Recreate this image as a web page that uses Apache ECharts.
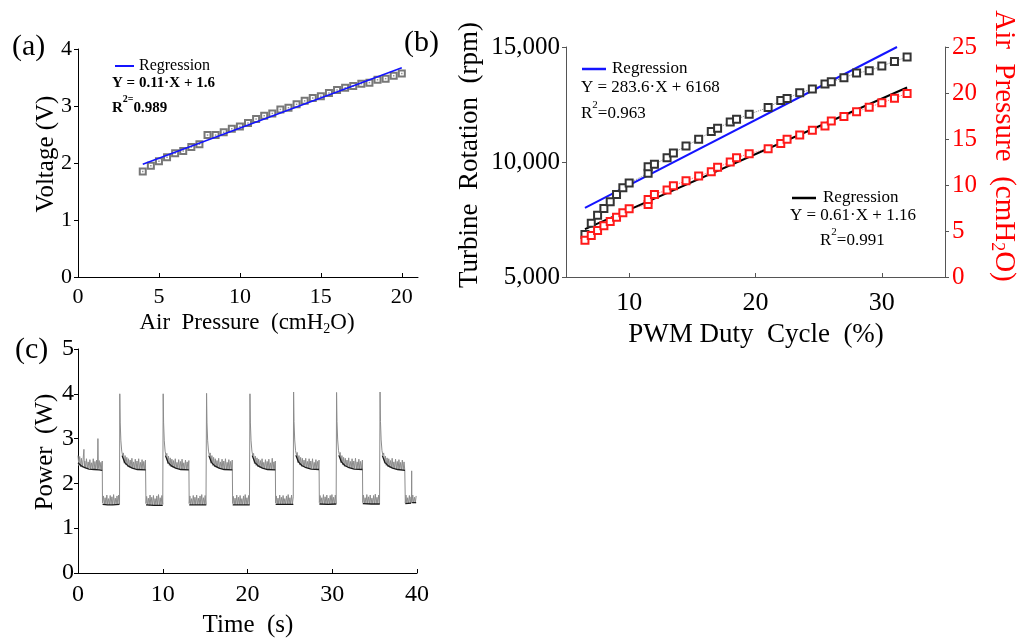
<!DOCTYPE html>
<html>
<head>
<meta charset="utf-8">
<title>Turbine characteristics</title>
<script src="https://cdn.jsdelivr.net/npm/echarts@6.0.0/dist/echarts.min.js"></script>
<style>
html, body { margin: 0; padding: 0; background: #fff; }
#main { width: 1027px; height: 639px; }
</style>
</head>
<body>
<div id="main"></div>
<script>
// (a) voltage vs air pressure
var pressureA = [4, 4.5, 5, 5.5, 6, 6.5, 7, 7.5, 8, 8.5, 9, 9.5, 10, 10.5, 11, 11.5, 12, 12.5, 13, 13.5, 14, 14.5, 15, 15.5, 16, 16.5, 17, 17.5, 18, 18.5, 19, 19.5, 20];
var voltageA = [1.85, 1.95, 2.03, 2.10, 2.17, 2.21, 2.28, 2.33, 2.49, 2.49, 2.54, 2.60, 2.64, 2.70, 2.77, 2.83, 2.87, 2.94, 2.97, 3.03, 3.09, 3.14, 3.17, 3.23, 3.28, 3.32, 3.35, 3.39, 3.41, 3.46, 3.48, 3.53, 3.57];
var regVoltage = [[4, 1.98], [20, 3.67]];
var ticksAx = [0, 5, 10, 15, 20];

// (b) turbine rotation and air pressure vs PWM duty cycle
var dutyB = [6.5, 7, 7.5, 8, 8.5, 9, 9.5, 10, 11.5, 11.5, 12, 13, 13.5, 14.5, 15.5, 16.5, 17, 18, 18.5, 19.5, 21, 22, 22.5, 23.5, 24.5, 25.5, 26, 27, 28, 29, 30, 31, 32];
var rpmB = [6846, 7340, 7689, 7980, 8270, 8590, 8880, 9084, 9506, 9797, 9898, 10189, 10392, 10698, 10988, 11323, 11468, 11744, 11860, 12078, 12369, 12674, 12762, 13009, 13169, 13387, 13488, 13663, 13866, 13968, 14172, 14375, 14564];
var airB = [4.0, 4.5, 5.05, 5.56, 6.03, 6.5, 6.98, 7.41, 7.88, 8.43, 8.98, 9.45, 9.92, 10.47, 10.97, 11.45, 11.92, 12.5, 12.97, 13.41, 13.95, 14.5, 14.97, 15.44, 15.95, 16.42, 16.97, 17.44, 17.95, 18.46, 18.93, 19.44, 19.95];
var regRpm = [[6.5, 8010], [31.2, 15000]];
var regAir = [[6.5, 5.2], [32, 20.6]];
var ticksBx = [10, 20, 30];

// (c) power trace, grey = raw samples, black = lower envelope
var powerGrey = [
  [0,2.62],[0.1,2.4],[0.2,2.6],[0.3,2.37],[0.4,2.56],[0.5,2.36],[0.6,2.53],[0.7,2.76],[0.75,2.35],[0.8,2.5],[0.9,2.34],[1.0,2.55],[1.1,2.33],[1.2,2.48],[1.3,2.34],[1.4,2.53],[1.5,2.32],[1.6,2.46],[1.7,2.33],[1.8,2.55],[1.9,2.32],[2.0,2.49],[2.1,2.31],[2.2,2.52],[2.3,2.32],[2.35,3.0],[2.4,2.33],[2.5,2.51],[2.6,2.31],[2.7,2.47],[2.8,2.31],[2.86,2.5],
  [2.89,1.56],[3.0,1.72],[3.1,1.53],[3.2,1.68],[3.3,1.52],[3.4,1.74],[3.5,1.53],[3.6,1.66],[3.7,1.52],[3.8,1.73],[3.9,1.53],[4.0,1.7],[4.1,1.52],[4.2,1.75],[4.3,1.53],[4.4,1.67],[4.5,1.52],[4.6,1.72],[4.7,1.53],[4.8,1.74],[4.9,1.54],
  [4.93,4.0],[4.98,3.35],[5.06,2.95],[5.16,2.72],[5.26,2.62],[5.36,2.68],[5.46,2.45],[5.56,2.62],[5.66,2.41],[5.76,2.58],[5.86,2.38],[5.96,2.55],[6.06,2.36],[6.16,2.52],[6.26,2.35],[6.36,2.56],[6.46,2.34],[6.56,2.48],[6.66,2.33],[6.76,2.54],[6.86,2.33],[6.96,2.5],[7.06,2.32],[7.16,2.55],[7.26,2.32],[7.36,2.47],[7.46,2.31],[7.56,2.53],[7.66,2.31],[7.76,2.49],[7.86,2.31],[7.96,2.52],
  [8.02,1.55],[8.1,1.71],[8.2,1.52],[8.3,1.67],[8.4,1.51],[8.5,1.74],[8.6,1.52],[8.7,1.69],[8.8,1.51],[8.9,1.73],[9.0,1.52],[9.1,1.66],[9.2,1.51],[9.3,1.72],[9.4,1.52],[9.5,1.75],[9.6,1.51],[9.7,1.68],[9.8,1.52],[9.9,1.73],[10.0,1.53],
  [10.05,4.0],[10.1,3.35],[10.18,2.95],[10.28,2.72],[10.38,2.62],[10.48,2.67],[10.58,2.44],[10.68,2.61],[10.78,2.4],[10.88,2.57],[10.98,2.37],[11.08,2.54],[11.18,2.36],[11.28,2.51],[11.38,2.35],[11.48,2.55],[11.58,2.34],[11.68,2.47],[11.78,2.33],[11.88,2.53],[11.98,2.32],[12.08,2.49],[12.18,2.32],[12.28,2.54],[12.38,2.31],[12.48,2.46],[12.58,2.31],[12.68,2.52],[12.78,2.31],[12.88,2.48],[12.98,2.3],[13.08,2.51],
  [13.12,1.55],[13.2,1.72],[13.3,1.52],[13.4,1.66],[13.5,1.52],[13.6,1.73],[13.7,1.53],[13.8,1.69],[13.9,1.52],[14.0,1.74],[14.1,1.53],[14.2,1.67],[14.3,1.52],[14.4,1.72],[14.5,1.53],[14.6,1.75],[14.7,1.52],[14.8,1.68],[14.9,1.53],[15.0,1.73],[15.1,1.53],
  [15.17,4.01],[15.22,3.35],[15.3,2.95],[15.4,2.72],[15.5,2.63],[15.6,2.68],[15.7,2.45],[15.8,2.62],[15.9,2.4],[16.0,2.58],[16.1,2.37],[16.2,2.55],[16.3,2.36],[16.4,2.51],[16.5,2.35],[16.6,2.56],[16.7,2.34],[16.8,2.48],[16.9,2.33],[17.0,2.54],[17.1,2.32],[17.2,2.5],[17.3,2.32],[17.4,2.55],[17.5,2.31],[17.6,2.47],[17.7,2.31],[17.8,2.53],[17.9,2.31],[18.0,2.49],[18.1,2.3],[18.2,2.52],
  [18.25,1.55],[18.33,1.71],[18.43,1.52],[18.53,1.67],[18.63,1.52],[18.73,1.74],[18.83,1.52],[18.93,1.69],[19.03,1.52],[19.13,1.73],[19.23,1.52],[19.33,1.66],[19.43,1.53],[19.53,1.72],[19.63,1.52],[19.73,1.75],[19.83,1.52],[19.93,1.68],[20.03,1.53],[20.13,1.73],[20.23,1.53],
  [20.29,4.0],[20.34,3.35],[20.42,2.95],[20.52,2.72],[20.62,2.62],[20.72,2.67],[20.82,2.44],[20.92,2.61],[21.02,2.4],[21.12,2.57],[21.22,2.37],[21.32,2.54],[21.42,2.36],[21.52,2.51],[21.62,2.35],[21.72,2.55],[21.82,2.34],[21.92,2.47],[22.02,2.33],[22.12,2.53],[22.22,2.32],[22.32,2.49],[22.42,2.32],[22.52,2.54],[22.62,2.31],[22.72,2.46],[22.82,2.31],[22.92,2.56],[23.02,2.31],[23.12,2.48],[23.22,2.3],[23.28,2.5],
  [23.32,1.56],[23.4,1.72],[23.5,1.53],[23.6,1.67],[23.7,1.53],[23.8,1.74],[23.9,1.54],[24.0,1.69],[24.1,1.53],[24.2,1.73],[24.3,1.54],[24.4,1.66],[24.5,1.53],[24.6,1.72],[24.7,1.54],[24.8,1.75],[24.9,1.53],[25.0,1.68],[25.1,1.54],[25.2,1.74],[25.3,1.54],[25.4,1.7],
  [25.44,4.04],[25.49,3.38],[25.57,2.97],[25.67,2.73],[25.77,2.64],[25.87,2.69],[25.97,2.46],[26.07,2.62],[26.17,2.41],[26.27,2.58],[26.37,2.38],[26.47,2.56],[26.57,2.37],[26.67,2.52],[26.77,2.36],[26.87,2.56],[26.97,2.35],[27.07,2.49],[27.17,2.34],[27.27,2.55],[27.37,2.33],[27.47,2.5],[27.57,2.33],[27.67,2.55],[27.77,2.32],[27.87,2.47],[27.97,2.32],[28.07,2.53],[28.17,2.32],[28.27,2.49],[28.37,2.31],[28.44,2.52],
  [28.48,1.57],[28.56,1.73],[28.66,1.54],[28.76,1.68],[28.86,1.54],[28.96,1.75],[29.06,1.54],[29.16,1.7],[29.26,1.53],[29.36,1.74],[29.46,1.54],[29.56,1.67],[29.66,1.54],[29.76,1.73],[29.86,1.54],[29.96,1.75],[30.06,1.54],[30.16,1.69],[30.26,1.54],[30.36,1.74],[30.46,1.55],
  [30.51,4.03],[30.56,3.38],[30.64,2.97],[30.74,2.73],[30.84,2.64],[30.94,2.69],[31.04,2.46],[31.14,2.62],[31.24,2.41],[31.34,2.58],[31.44,2.38],[31.54,2.56],[31.64,2.37],[31.74,2.52],[31.84,2.36],[31.94,2.57],[32.04,2.35],[32.14,2.49],[32.24,2.34],[32.34,2.55],[32.44,2.33],[32.54,2.5],[32.64,2.33],[32.74,2.56],[32.84,2.32],[32.94,2.48],[33.04,2.32],[33.14,2.54],[33.24,2.32],[33.34,2.49],[33.44,2.31],[33.56,2.52],
  [33.6,1.57],[33.68,1.74],[33.78,1.55],[33.88,1.68],[33.98,1.55],[34.08,1.75],[34.18,1.55],[34.28,1.7],[34.38,1.54],[34.48,1.74],[34.58,1.55],[34.68,1.67],[34.78,1.55],[34.88,1.73],[34.98,1.54],[35.08,1.76],[35.18,1.55],[35.28,1.69],[35.38,1.55],[35.48,1.74],[35.58,1.55],
  [35.64,4.04],[35.69,3.38],[35.77,2.97],[35.87,2.73],[35.97,2.63],[36.07,2.68],[36.17,2.45],[36.27,2.61],[36.37,2.4],[36.47,2.57],[36.57,2.37],[36.67,2.55],[36.77,2.36],[36.87,2.51],[36.97,2.35],[37.07,2.56],[37.17,2.34],[37.27,2.48],[37.37,2.33],[37.47,2.54],[37.57,2.32],[37.67,2.49],[37.77,2.31],[37.87,2.53],[37.97,2.31],[38.07,2.47],[38.17,2.3],[38.27,2.52],[38.37,2.3],[38.47,2.48],[38.56,2.29],
  [38.62,1.56],[38.7,1.74],[38.8,1.55],[38.9,1.68],[39.0,1.55],[39.1,1.73],[39.2,1.55],[39.3,1.7],[39.34,1.56],[39.37,2.28],[39.4,1.57],[39.5,1.74],[39.6,1.56],[39.7,1.69],[39.8,1.56],[39.9,1.72]
];
var powerBlack = [
  [0,2.46],[0.4,2.39],[0.8,2.35],[1.3,2.32],[1.9,2.31],[2.5,2.3],[2.86,2.29],[2.87,'-'],
  [2.9,1.53],[3.5,1.52],[4.1,1.52],[4.9,1.53],[4.91,'-'],
  [5.2,2.62],[5.5,2.47],[5.9,2.39],[6.4,2.34],[7.0,2.31],[7.98,2.3],[7.99,'-'],
  [8.02,1.52],[9.0,1.51],[10.0,1.51],[10.01,'-'],
  [10.32,2.62],[10.62,2.47],[11.02,2.39],[11.52,2.34],[12.12,2.31],[13.08,2.3],[13.09,'-'],
  [13.12,1.52],[14.1,1.52],[15.14,1.52],[15.15,'-'],
  [15.44,2.62],[15.74,2.47],[16.14,2.39],[16.64,2.34],[17.24,2.31],[18.21,2.3],[18.22,'-'],
  [18.25,1.52],[19.2,1.52],[20.26,1.52],[20.27,'-'],
  [20.56,2.62],[20.86,2.47],[21.26,2.39],[21.76,2.34],[22.36,2.31],[23.28,2.3],[23.29,'-'],
  [23.32,1.53],[24.4,1.53],[25.41,1.53],[25.42,'-'],
  [25.71,2.63],[26.01,2.48],[26.41,2.4],[26.91,2.35],[27.51,2.32],[28.44,2.31],[28.45,'-'],
  [28.48,1.54],[29.5,1.53],[30.48,1.54],[30.49,'-'],
  [30.78,2.63],[31.08,2.48],[31.48,2.4],[31.98,2.35],[32.58,2.32],[33.56,2.31],[33.57,'-'],
  [33.6,1.55],[34.6,1.54],[35.61,1.54],[35.62,'-'],
  [35.91,2.62],[36.21,2.47],[36.61,2.39],[37.11,2.34],[37.71,2.31],[38.58,2.29],[38.6,'-'],
  [38.62,1.55],[39.3,1.56],[39.35,'-'],
  [39.42,1.57],[39.9,1.57]
];

var SERIF = "'Liberation Serif', 'Times New Roman', serif";

function zip(xs, ys) {
	var out = [];
	for (var i = 0; i < xs.length; i++) {
		out.push([xs[i], ys[i]]);
	}
	return out;
}

// plain axis used by all panels
function axis(grid, min, max, fontSize, color, lineColor) {
	return {
		type : 'value',
		gridIndex : grid,
		min : min,
		max : max,
		axisLine : { show : true, onZero : false, lineStyle : { color : lineColor, width : 1 } },
		axisTick : { show : true, length : 4, lineStyle : { color : lineColor } },
		axisLabel : { fontFamily : SERIF, fontSize : fontSize, color : color },
		splitLine : { show : false }
	};
}

function label(x, y, text, size, opt) {
	opt = opt || {};
	return {
		type : 'text',
		x : x,
		y : y,
		rotation : opt.rotation || 0,
		style : {
			text : text,
			fontFamily : SERIF,
			fontSize : size,
			fontWeight : opt.bold ? 'bold' : 'normal',
			fill : opt.color || '#000',
			align : opt.align || 'left',
			verticalAlign : 'middle',
			rich : opt.rich
		}
	};
}

function richSub(size, color) {
	return {
		n : { fontFamily : SERIF, fontSize : size, fill : color, lineHeight : size + 4, verticalAlign : 'middle' },
		s : { fontFamily : SERIF, fontSize : Math.round(size * 0.62), fill : color, lineHeight : Math.round(size * 0.62), verticalAlign : 'bottom' }
	};
}
function richSup(size, bold) {
	var w = bold ? 'bold' : 'normal';
	return {
		n : { fontFamily : SERIF, fontSize : size, fontWeight : w, fill : '#000', lineHeight : size + 6, verticalAlign : 'bottom' },
		p : { fontFamily : SERIF, fontSize : Math.round(size * 0.65), fontWeight : w, fill : '#000', lineHeight : size, verticalAlign : 'top' }
	};
}

var chart = echarts.init(document.getElementById('main'));

var xA = axis(0, 0, 21, 22, '#000', '#000');
xA.axisTick.inside = true;
xA.axisTick.customValues = ticksAx;
xA.axisLabel.customValues = ticksAx;
xA.axisLabel.margin = 9;

var xB = axis(1, 5, 35, 26, '#000', '#555');
xB.axisTick.inside = true;
xB.axisTick.customValues = ticksBx;
xB.axisLabel.customValues = ticksBx;
xB.axisLabel.margin = 13;

var xC = axis(2, 0, 40, 24, '#000', '#000');
xC.interval = 10;
xC.axisTick.inside = true;
xC.axisLabel.margin = 10;

var yA = axis(0, 0, 4, 22, '#000', '#000');
yA.interval = 1;
yA.axisLabel.margin = 6;

var yB = axis(1, 5000, 15000, 25, '#000', '#555');
yB.interval = 5000;
yB.axisLabel.margin = 6;
yB.axisLabel.formatter = function(v) { return echarts.format.addCommas(v); };

var yB2 = axis(1, 0, 25, 25, '#ff0000', '#555');
yB2.position = 'right';
yB2.interval = 5;
yB2.axisLabel.margin = 7;

var yC = axis(2, 0, 5, 24, '#000', '#000');
yC.interval = 1;
yC.axisLabel.margin = 4;

var option = {
	animation : false,
	backgroundColor : '#fff',
	grid : [
		{ left : 78, top : 49, width : 340, height : 228 },
		{ left : 566, top : 47, width : 379, height : 230 },
		{ left : 78, top : 349, width : 339, height : 224 }
	],
	xAxis : [ xA, xB, xC ],
	yAxis : [ yA, yB, yB2, yC ],
	series : [
		{
			name : 'voltage',
			type : 'scatter',
			xAxisIndex : 0, yAxisIndex : 0,
			symbol : 'emptyRect', symbolSize : 6,
			itemStyle : { color : '#555', borderWidth : 1 },
			data : zip(pressureA, voltageA)
		},
		{
			type : 'scatter',
			xAxisIndex : 0, yAxisIndex : 0,
			symbol : 'rect', symbolSize : 1.5,
			itemStyle : { color : '#777' },
			data : zip(pressureA, voltageA)
		},
		{
			name : 'regression a',
			type : 'line',
			xAxisIndex : 0, yAxisIndex : 0,
			symbol : 'none',
			lineStyle : { color : '#1414ff', width : 1.6 },
			data : regVoltage
		},
		{
			name : 'rpm',
			type : 'line',
			xAxisIndex : 1, yAxisIndex : 1,
			symbol : 'emptyRect', symbolSize : 7,
			lineStyle : { color : '#888', width : 1, type : 'dotted' },
			itemStyle : { color : '#333', borderWidth : 1 },
			data : zip(dutyB, rpmB)
		},
		{
			name : 'air',
			type : 'line',
			xAxisIndex : 1, yAxisIndex : 2,
			symbol : 'emptyRect', symbolSize : 7,
			lineStyle : { color : '#ff6060', width : 1, type : 'dotted' },
			itemStyle : { color : '#ff1a1a', borderWidth : 1 },
			data : zip(dutyB, airB)
		},
		{
			type : 'scatter',
			xAxisIndex : 1, yAxisIndex : 1,
			symbol : 'rect', symbolSize : 1.5,
			itemStyle : { color : '#666' },
			data : zip(dutyB, rpmB)
		},
		{
			type : 'scatter',
			xAxisIndex : 1, yAxisIndex : 2,
			symbol : 'rect', symbolSize : 1.5,
			itemStyle : { color : '#ff4040' },
			data : zip(dutyB, airB)
		},
		{
			name : 'regression rpm',
			type : 'line',
			xAxisIndex : 1, yAxisIndex : 1,
			symbol : 'none',
			lineStyle : { color : '#1414ff', width : 2 },
			data : regRpm
		},
		{
			name : 'regression air',
			type : 'line',
			xAxisIndex : 1, yAxisIndex : 2,
			symbol : 'none',
			lineStyle : { color : '#000', width : 2 },
			data : regAir
		},
		{
			name : 'power raw',
			type : 'line',
			xAxisIndex : 2, yAxisIndex : 3,
			symbol : 'none',
			lineStyle : { color : '#8c8c8c', width : 1 },
			data : powerGrey
		},
		{
			name : 'power',
			type : 'line',
			xAxisIndex : 2, yAxisIndex : 3,
			symbol : 'none',
			connectNulls : false,
			lineStyle : { color : '#1a1a1a', width : 1.3 },
			data : powerBlack
		}
	],
	graphic : [
		// panel (a)
		label(12, 47, '(a)', 30),
		label(46, 154, 'Voltage (V)', 25, { rotation : Math.PI / 2, align : 'center' }),
		label(247, 323, '{n|Air  Pressure  (cmH}{s|2}{n|O)}', 23, { align : 'center', rich : richSub(23, '#000') }),
		{ type : 'line', shape : { x1 : 115, y1 : 66, x2 : 134, y2 : 66 }, style : { stroke : '#1414ff', lineWidth : 2 } },
		label(139, 66, 'Regression', 16),
		label(112, 83, 'Y = 0.11·X + 1.6', 15, { bold : true }),
		label(112, 105, '{n|R}{p|2=}{n|0.989}', 15, { rich : richSup(15, true) }),
		// panel (b)
		label(404, 43, '(b)', 30),
		label(470, 155, 'Turbine  Rotation  (rpm)', 27, { rotation : Math.PI / 2, align : 'center' }),
		label(1004, 146, '{n|Air  Pressure  (cmH}{s|2}{n|O)}', 29, { rotation : -Math.PI / 2, align : 'center', color : '#ff0000', rich : richSub(29, '#ff0000') }),
		label(756, 335, 'PWM Duty  Cycle  (%)', 27, { align : 'center' }),
		{ type : 'line', shape : { x1 : 582, y1 : 69, x2 : 606, y2 : 69 }, style : { stroke : '#1414ff', lineWidth : 2.5 } },
		label(612, 69, 'Regression', 17),
		label(581, 88, 'Y = 283.6·X + 6168', 17),
		label(581, 111, '{n|R}{p|2}{n|=0.963}', 17, { rich : richSup(17, false) }),
		{ type : 'line', shape : { x1 : 792, y1 : 198, x2 : 816, y2 : 198 }, style : { stroke : '#000', lineWidth : 2.5 } },
		label(823, 198, 'Regression', 17),
		label(790, 216, 'Y = 0.61·X + 1.16', 17),
		label(820, 238, '{n|R}{p|2}{n|=0.991}', 17, { rich : richSup(17, false) }),
		// panel (c)
		label(15, 350, '(c)', 30),
		label(45, 452, 'Power  (W)', 25, { rotation : Math.PI / 2, align : 'center' }),
		label(248, 625, 'Time  (s)', 25, { align : 'center' })
	]
};

chart.setOption(option);
</script>
</body>
</html>
